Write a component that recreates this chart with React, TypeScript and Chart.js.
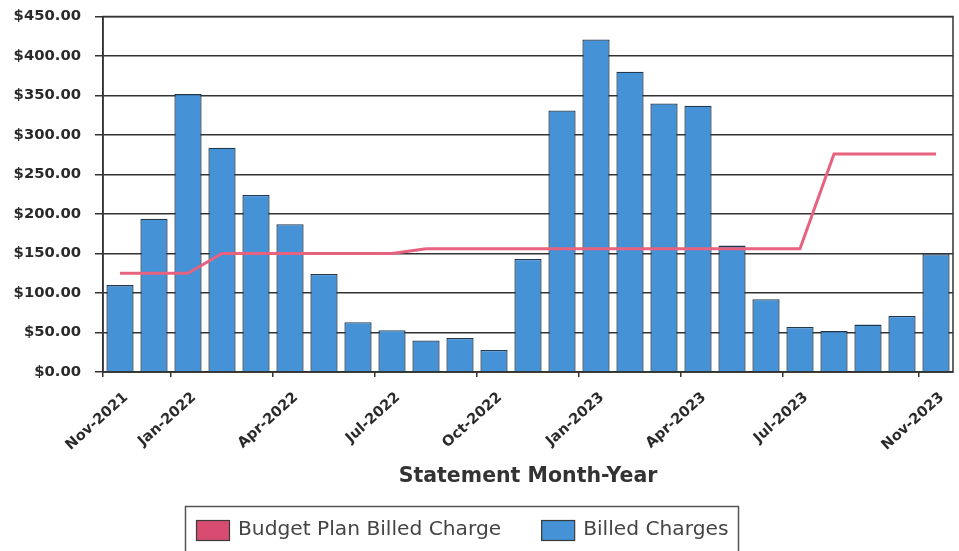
import React, { useEffect, useRef } from 'react';
import { Chart, registerables } from 'chart.js';

Chart.register(...registerables);

const months = [
  'Nov-2021', 'Dec-2021', 'Jan-2022', 'Feb-2022', 'Mar-2022', 'Apr-2022', 'May-2022',
  'Jun-2022', 'Jul-2022', 'Aug-2022', 'Sep-2022', 'Oct-2022', 'Nov-2022', 'Dec-2022',
  'Jan-2023', 'Feb-2023', 'Mar-2023', 'Apr-2023', 'May-2023', 'Jun-2023', 'Jul-2023',
  'Aug-2023', 'Sep-2023', 'Oct-2023', 'Nov-2023',
];

const billedCharges = [
  110, 194, 352, 284, 224, 187, 124, 63, 53, 40, 43, 28, 143,
  331, 421, 380, 340, 337, 160, 92, 57, 52, 60, 71, 149,
];

const budgetPlan = [
  125, 125, 125, 150, 150, 150, 150, 150, 150, 156, 156, 156, 156,
  156, 156, 156, 156, 156, 156, 156, 156, 276, 276, 276, 276,
];

const shownTickLabels = [
  'Nov-2021', 'Jan-2022', 'Apr-2022', 'Jul-2022', 'Oct-2022',
  'Jan-2023', 'Apr-2023', 'Jul-2023', 'Nov-2023',
];

const yMin = 0;
const yMax = 450;
const yStep = 50;

const FONT = '"DejaVu Sans", Verdana, sans-serif';

const framePlugin = {
  id: 'frame',
  beforeDatasetsDraw(chart: any) {
    const { ctx, chartArea } = chart;
    ctx.save();
    ctx.strokeStyle = '#333';
    ctx.lineWidth = 1.5;
    ctx.strokeRect(chartArea.left, chartArea.top, chartArea.right - chartArea.left, chartArea.bottom - chartArea.top);
    ctx.restore();
  },
};

const legendPlugin = {
  id: 'boxLegend',
  afterDraw(chart: any) {
    const { ctx } = chart;
    ctx.save();
    ctx.strokeStyle = '#555';
    ctx.lineWidth = 1.5;
    ctx.strokeRect(185.5, 506.5, 553, 70);
    ctx.font = `20.2px ${FONT}`;
    ctx.textBaseline = 'middle';
    ctx.textAlign = 'left';
    let x = 196;
    const cy = 530;
    chart.data.datasets.forEach((ds: any) => {
      ctx.fillStyle = ds.legendColor;
      ctx.fillRect(x, cy - 10, 33, 20);
      ctx.strokeStyle = '#3a3a3a';
      ctx.lineWidth = 1.2;
      ctx.strokeRect(x + 0.5, cy - 10 + 0.5, 33, 20);
      ctx.fillStyle = '#444';
      ctx.fillText(ds.label, x + 42, cy);
      x += 42 + ctx.measureText(ds.label).width + 40;
    });
    ctx.restore();
  },
};

export default function App() {
  const canvasRef = useRef<HTMLCanvasElement | null>(null);

  useEffect(() => {
    document.body.style.margin = '0';
    const canvas = canvasRef.current;
    if (!canvas) return;
    const chart = new Chart(canvas, {
      type: 'bar',
      data: {
        labels: months,
        datasets: [
          {
            type: 'line',
            label: 'Budget Plan Billed Charge',
            data: budgetPlan,
            borderColor: '#e6627f',
            backgroundColor: '#d84c72',
            legendColor: '#d84c72',
            borderWidth: 3,
            pointRadius: 0,
            tension: 0,
            fill: false,
            order: 0,
          } as any,
          {
            type: 'bar',
            label: 'Billed Charges',
            data: billedCharges,
            backgroundColor: '#4592d6',
            legendColor: '#4592d6',
            borderColor: '#22384f',
            borderWidth: 1.3,
            barPercentage: 0.8,
            categoryPercentage: 1,
            order: 1,
          } as any,
        ],
      },
      options: {
        responsive: false,
        animation: false,
        layout: { padding: { left: 0, right: 6, top: 16.5, bottom: 62 } },
        plugins: {
          legend: { display: false },
          tooltip: { enabled: false },
          title: { display: false },
        },
        scales: {
          x: {
            offset: true,
            border: { display: true, color: '#333', width: 1.5 },
            grid: {
              drawOnChartArea: false,
              drawTicks: true,
              tickLength: 5,
              tickColor: (c: any) =>
                shownTickLabels.includes(months[c.index]) ? '#333' : 'rgba(0,0,0,0)',
              lineWidth: 1.5,
            },
            ticks: {
              autoSkip: false,
              maxRotation: 42,
              minRotation: 42,
              padding: 12,
              labelOffset: 6,
              color: '#2a2a2a',
              font: { family: FONT, size: 14.5, weight: 'bold' },
              callback: (_v: any, i: number) =>
                shownTickLabels.includes(months[i]) ? months[i] : '',
            },
            title: {
              display: true,
              text: 'Statement Month-Year',
              color: '#333',
              font: { family: FONT, size: 20.5, weight: 'bold' },
              padding: { top: 0, bottom: 0 },
            },
            afterFit: (s: any) => {
              s.height = 117;
              s.paddingLeft = 0;
              s.paddingRight = 0;
            },
          },
          y: {
            min: yMin,
            max: yMax,
            border: { display: true, color: '#333', width: 1.5 },
            grid: {
              color: '#333',
              lineWidth: 1.5,
              tickLength: 8,
              tickColor: '#333',
            },
            ticks: {
              stepSize: yStep,
              padding: 14,
              color: '#2a2a2a',
              font: { family: FONT, size: 14.8, weight: 'bold' },
              callback: (v: any) => '$' + Number(v).toFixed(2),
            },
            afterFit: (s: any) => {
              s.width = 103;
              s.paddingTop = 0;
              s.paddingBottom = 0;
            },
          },
        },
      } as any,
      plugins: [framePlugin, legendPlugin],
    });
    return () => chart.destroy();
  }, []);

  return (
    <div style={{ width: 959, height: 551, background: '#fff' }}>
      <canvas ref={canvasRef} width={959} height={551} style={{ display: 'block' }} />
    </div>
  );
}
